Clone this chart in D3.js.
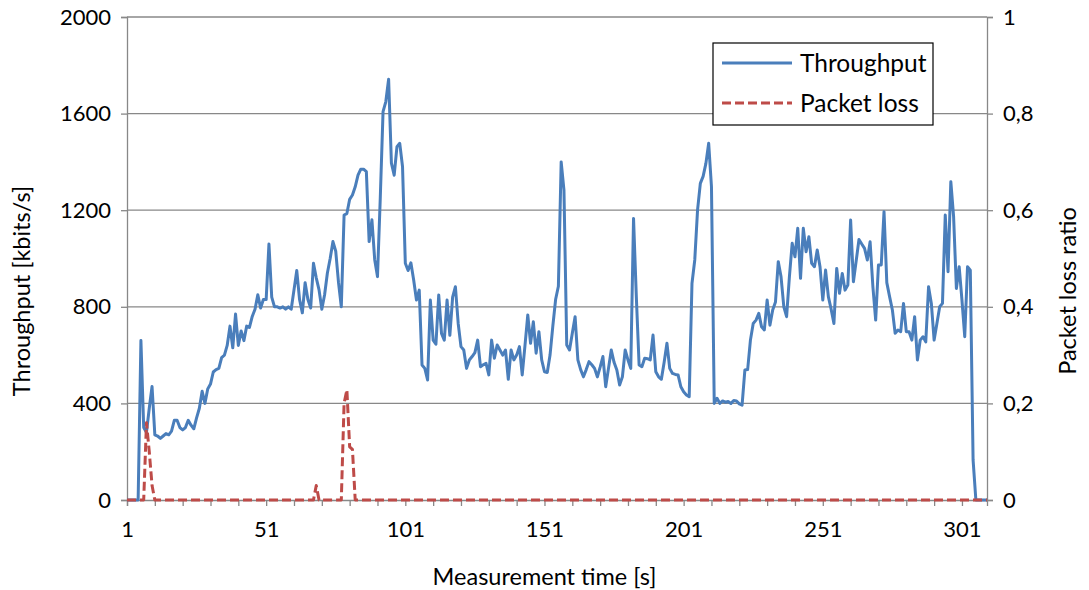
<!DOCTYPE html>
<html>
<head>
<meta charset="utf-8">
<script src="https://cdn.jsdelivr.net/npm/d3@7"></script>
<style>
  body { margin: 0; background: #fff; }
  text { font-family: Lato, "Open Sans", sans-serif; fill: #000; }
</style>
</head>
<body>
<div id="chart"></div>
<script>
// throughput in kbits/s, one value per second (1..310)
const throughput = [
  0, 0, 0, 0, 0, 660, 300, 280, 380, 470,
  270, 265, 255, 265, 275, 270, 285, 330, 330, 300,
  290, 300, 330, 310, 295, 340, 380, 450, 400, 460,
  480, 530, 540, 545, 590, 600, 640, 720, 630, 770,
  640, 700, 660, 720, 715, 760, 790, 850, 795, 830,
  830, 1060, 840, 800, 800, 795, 800, 790, 800, 790,
  870, 950, 830, 775, 900, 830, 795, 980, 920, 870,
  790, 850, 940, 1000, 1070, 1030, 900, 800, 1180, 1186,
  1245, 1263, 1297, 1345, 1370, 1370, 1360, 1070, 1160, 995,
  925, 1250, 1608, 1650, 1742, 1395, 1345, 1463, 1477, 1380,
  980, 950, 982, 911, 828, 869, 559, 545, 497, 828,
  662, 645, 849, 690, 662, 828, 682, 840, 883, 731,
  635, 621, 545, 580, 594, 610, 662, 552, 560, 566,
  518, 662, 587, 642, 621, 600, 621, 500, 621, 580,
  600, 635, 518, 640, 766, 649, 738, 608, 697, 580,
  531, 528, 600, 720, 830, 885, 1400, 1283, 642, 621,
  690, 759, 580, 540, 510, 540, 573, 560, 545, 510,
  550, 594, 469, 545, 621, 570, 538, 476, 510, 621,
  580, 545, 1166, 842, 559, 552, 587, 585, 580, 683,
  531, 510, 500, 570, 649, 545, 524, 520, 518, 469,
  448, 435, 428, 897, 994, 1200, 1311, 1340, 1394, 1477,
  1297, 400, 421, 400, 410, 405, 408, 400, 412, 410,
  398, 393, 538, 540, 662, 731, 745, 773, 717, 704,
  828, 724, 787, 820, 987, 924, 800, 759, 924, 1063,
  1007, 1125, 918, 1125, 1028, 1090, 980, 966, 1035, 966,
  828, 952, 842, 790, 731, 959, 856, 938, 869, 890,
  1159, 904, 990, 1079, 1060, 1042, 994, 1069, 883, 745,
  973, 973, 1194, 900, 842, 787, 690, 704, 697, 814,
  697, 697, 662, 759, 580, 662, 676, 655, 883, 814,
  662, 731, 800, 814, 1180, 945, 1318, 1173, 876, 966,
  828, 676, 966, 952, 166, 0, 0, 0, 0, 0
]

// packet loss ratio, same seconds
const packetLoss = [
  0, 0, 0, 0, 0, 0, 0, 0.16, 0.10, 0.03,
  0, 0, 0, 0, 0, 0, 0, 0, 0, 0,
  0, 0, 0, 0, 0, 0, 0, 0, 0, 0,
  0, 0, 0, 0, 0, 0, 0, 0, 0, 0,
  0, 0, 0, 0, 0, 0, 0, 0, 0, 0,
  0, 0, 0, 0, 0, 0, 0, 0, 0, 0,
  0, 0, 0, 0, 0, 0, 0, 0, 0.03, 0,
  0, 0, 0, 0, 0, 0, 0, 0, 0.2, 0.228,
  0.11, 0.105, 0, 0, 0, 0, 0, 0, 0, 0,
  0, 0, 0, 0, 0, 0, 0, 0, 0, 0,
  0, 0, 0, 0, 0, 0, 0, 0, 0, 0,
  0, 0, 0, 0, 0, 0, 0, 0, 0, 0,
  0, 0, 0, 0, 0, 0, 0, 0, 0, 0,
  0, 0, 0, 0, 0, 0, 0, 0, 0, 0,
  0, 0, 0, 0, 0, 0, 0, 0, 0, 0,
  0, 0, 0, 0, 0, 0, 0, 0, 0, 0,
  0, 0, 0, 0, 0, 0, 0, 0, 0, 0,
  0, 0, 0, 0, 0, 0, 0, 0, 0, 0,
  0, 0, 0, 0, 0, 0, 0, 0, 0, 0,
  0, 0, 0, 0, 0, 0, 0, 0, 0, 0,
  0, 0, 0, 0, 0, 0, 0, 0, 0, 0,
  0, 0, 0, 0, 0, 0, 0, 0, 0, 0,
  0, 0, 0, 0, 0, 0, 0, 0, 0, 0,
  0, 0, 0, 0, 0, 0, 0, 0, 0, 0,
  0, 0, 0, 0, 0, 0, 0, 0, 0, 0,
  0, 0, 0, 0, 0, 0, 0, 0, 0, 0,
  0, 0, 0, 0, 0, 0, 0, 0, 0, 0,
  0, 0, 0, 0, 0, 0, 0, 0, 0, 0,
  0, 0, 0, 0, 0, 0, 0, 0, 0, 0,
  0, 0, 0, 0, 0, 0, 0, 0, 0, 0,
  0, 0, 0, 0, 0, 0, 0, 0, 0, 0
]

const leftTicks = [0, 400, 800, 1200, 1600, 2000]
const rightTicks = [0, 0.2, 0.4, 0.6, 0.8, 1]
const xLabels = [1, 51, 101, 151, 201, 251, 301]
const xTickMarks = d3.range(1, 302, 10)

const width = 1089
const height = 590
const margins = { top: 17, bottom: 90, left: 127, right: 102 }
const gridColor = "#888888"

const data = throughput.map((d, i) => ({ t: i + 1, tp: d, pl: packetLoss[i] }))

const xScale = d3.scaleLinear()
    .domain([1, data.length])
    .range([margins.left, width - margins.right])

const yScale = d3.scaleLinear()
    .domain([0, 2000])
    .range([height - margins.bottom, margins.top])

const yScale2 = d3.scaleLinear()
    .domain([0, 1])
    .range([height - margins.bottom, margins.top])

const svg = d3.select("#chart")
    .append("svg")
    .attr("width", width)
    .attr("height", height)

// gridlines
svg.selectAll("line.grid")
    .data(leftTicks.slice(1))
    .join("line")
    .attr("class", "grid")
    .attr("x1", xScale.range()[0])
    .attr("x2", xScale.range()[1])
    .attr("y1", d => yScale(d))
    .attr("y2", d => yScale(d))
    .attr("stroke", gridColor)
    .attr("stroke-width", 1.3)

// left axis
const yAxis = d3.axisLeft(yScale).tickValues(leftTicks).tickSize(6).tickPadding(10)
    .tickFormat(d3.format("d"))
const gy = svg.append("g")
    .attr("transform", `translate(${margins.left},0)`)
    .call(yAxis)

// right axis
const yAxis2 = d3.axisRight(yScale2).tickValues(rightTicks).tickSize(6).tickPadding(10)
    .tickFormat(d => d3.format("~g")(d).replace(".", ","))
const gy2 = svg.append("g")
    .attr("transform", `translate(${width - margins.right},0)`)
    .call(yAxis2)

// bottom axis
const xAxis = d3.axisBottom(xScale).tickValues(xTickMarks).tickSize(6).tickPadding(15)
    .tickFormat(d => xLabels.includes(d) ? d : "")
const gx = svg.append("g")
    .attr("transform", `translate(0,${height - margins.bottom})`)
    .call(xAxis)

;[gy, gy2, gx].forEach(g => {
  g.select(".domain").attr("stroke", gridColor).attr("stroke-width", 1.3)
  g.selectAll(".tick line").attr("stroke", gridColor).attr("stroke-width", 1.3)
  g.selectAll("text").style("font-family", "Lato, 'Open Sans', sans-serif").style("font-size", "22px").attr("fill", "#000")
})

// lines
const tpLine = d3.line()
    .x(d => xScale(d.t))
    .y(d => yScale(d.tp))

const plLine = d3.line()
    .x(d => xScale(d.t))
    .y(d => yScale2(d.pl))

svg.append("path")
    .datum(data)
    .attr("d", tpLine)
    .attr("fill", "none")
    .attr("stroke", "#4a7ebb")
    .attr("stroke-width", 3)
    .attr("stroke-linejoin", "round")

svg.append("path")
    .datum(data)
    .attr("d", plLine)
    .attr("fill", "none")
    .attr("stroke", "#be4b48")
    .attr("stroke-width", 3)
    .attr("stroke-dasharray", "9,4")
    .attr("stroke-linejoin", "round")

// axis titles (centred on the whole chart, like Excel does)
svg.append("text")
    .attr("transform", "translate(22,291) rotate(-90)")
    .attr("text-anchor", "middle")
    .attr("dy", "0.35em")
    .style("font-size", "23.5px")
    .text("Throughput [kbits/s]")

svg.append("text")
    .attr("transform", "translate(1068,291) rotate(-90)")
    .attr("text-anchor", "middle")
    .attr("dy", "0.35em")
    .style("font-size", "23.5px")
    .text("Packet loss ratio")

svg.append("text")
    .attr("x", width / 2)
    .attr("y", 577)
    .attr("text-anchor", "middle")
    .attr("dy", "0.35em")
    .style("font-size", "23.5px")
    .text("Measurement time [s]")

// legend
const legend = svg.append("g").attr("transform", "translate(713,43)")
legend.append("rect")
    .attr("width", 220)
    .attr("height", 82)
    .attr("fill", "#fff")
    .attr("stroke", "#000")
    .attr("stroke-width", 1.2)

const legendItems = [
  { name: "Throughput", color: "#4a7ebb", dash: null },
  { name: "Packet loss", color: "#be4b48", dash: "9,4" }
]

legend.selectAll("line.key")
    .data(legendItems)
    .join("line")
    .attr("class", "key")
    .attr("x1", 9)
    .attr("x2", 79)
    .attr("y1", (d, i) => 20 + i * 40)
    .attr("y2", (d, i) => 20 + i * 40)
    .attr("stroke", d => d.color)
    .attr("stroke-width", 3)
    .attr("stroke-dasharray", d => d.dash)

legend.selectAll("text.key")
    .data(legendItems)
    .join("text")
    .attr("class", "key")
    .attr("x", 87)
    .attr("y", (d, i) => 20 + i * 40)
    .attr("dy", "0.35em")
    .style("font-size", "24.5px")
    .text(d => d.name)
</script>
</body>
</html>
